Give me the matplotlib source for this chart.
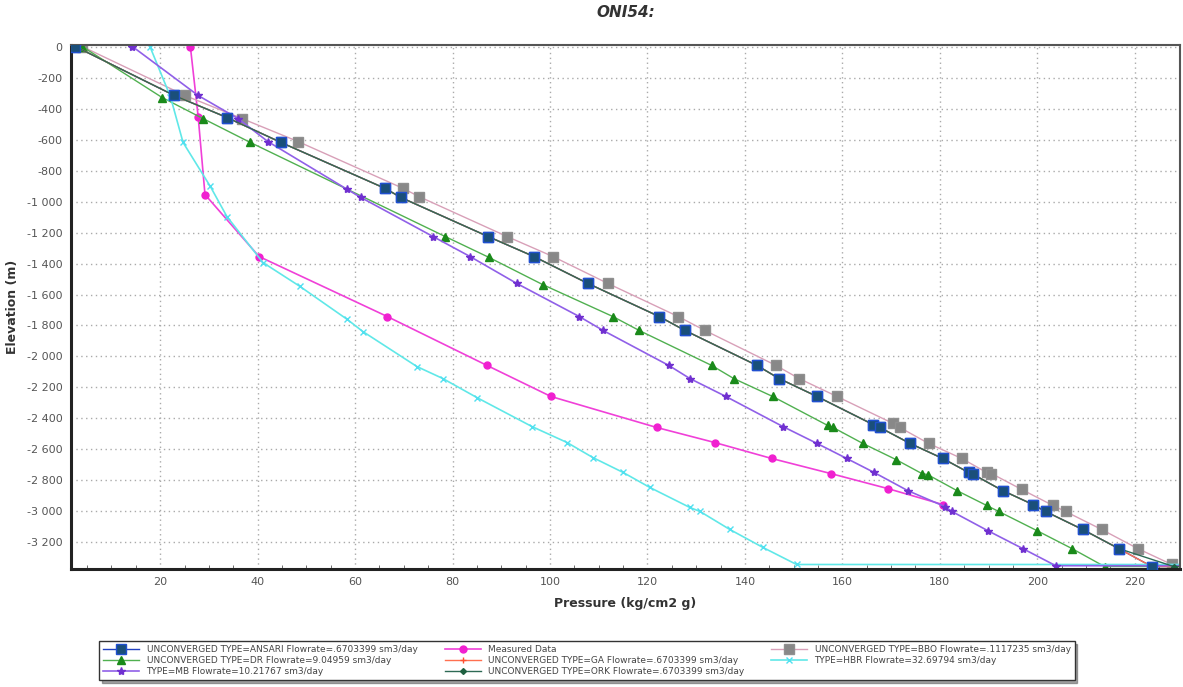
import numpy as np
import matplotlib.pyplot as plt
from matplotlib.ticker import FuncFormatter, MultipleLocator

# pressure (kg/cm2 g) vs elevation (m)
ansari_p = [2.6, 22.9, 33.7, 44.8, 66.2, 69.4, 87.3, 96.7, 107.8, 122.4, 127.7, 142.5, 147.0,
            154.8, 166.3, 167.7, 173.9, 180.6, 185.9, 186.8, 192.9, 199.1, 201.7, 209.3, 216.7, 223.5, 232]
ansari_z = [0, -316, -458, -619, -916, -974, -1226, -1355, -1529, -1742, -1832, -2058, -2142,
            -2258, -2439, -2458, -2561, -2658, -2748, -2760, -2865, -2955, -3000, -3116, -3239, -3355, -3355]

meas_p = [26.2, 27.8, 29.2, 40.3, 66.6, 87.1, 100.2, 121.9, 133.8, 145.5, 157.6, 169.3, 180.6]
meas_z = [0, -452, -955, -1355, -1742, -2058, -2258, -2458, -2555, -2658, -2755, -2852, -2955]

bbo_p = [4.0, 25.1, 36.8, 48.3, 69.9, 73.1, 91.2, 100.6, 111.9, 126.3, 131.8, 146.4, 151.1,
         158.9, 170.4, 171.8, 177.7, 184.5, 189.6, 190.6, 196.8, 203.2, 205.8, 213.2, 220.6, 227.6, 232]
bbo_z = [0, -316, -465, -613, -916, -968, -1226, -1355, -1529, -1742, -1832, -2058, -2142,
         -2258, -2432, -2458, -2561, -2658, -2748, -2755, -2858, -2961, -3000, -3116, -3239, -3342, -3342]

dr_p = [4.0, 20.4, 28.8, 38.5, 78.5, 87.5, 98.5, 112.9, 118.3, 133.2, 137.7, 145.7, 157.0, 158.1,
        164.2, 171.0, 176.3, 177.5, 183.5, 189.6, 192.1, 199.9, 207.1, 213.8, 232]
dr_z = [0, -329, -465, -619, -1226, -1361, -1536, -1742, -1832, -2058, -2142, -2258, -2445, -2458,
        -2561, -2665, -2755, -2762, -2865, -2961, -3000, -3123, -3239, -3355, -3355]

ga_p = ansari_p
ga_z = ansari_z

hbr_p = [17.9, 22.1, 24.7, 30.3, 33.7, 41.1, 48.7, 58.4, 61.6, 72.7, 78.0, 85.0, 96.3, 103.5,
         108.8, 115.0, 120.5, 128.7, 130.8, 136.9, 143.7, 150.6, 232]
hbr_z = [0, -323, -619, -903, -1097, -1394, -1548, -1761, -1839, -2065, -2142, -2265, -2452, -2555,
         -2652, -2748, -2845, -2974, -3000, -3116, -3232, -3342, -3342]

mb_p = [14.3, 27.8, 36.0, 42.1, 58.4, 61.2, 76.0, 83.6, 93.2, 106.0, 110.9, 124.4, 128.7, 136.1,
        147.8, 154.8, 160.9, 166.5, 173.4, 181.0, 182.5, 189.8, 197.0, 203.8, 232]
mb_z = [0, -316, -465, -613, -922, -974, -1226, -1355, -1529, -1742, -1832, -2058, -2142, -2258,
        -2452, -2561, -2658, -2748, -2865, -2968, -3000, -3123, -3239, -3350, -3350]

ork_p = ansari_p[:-2] + [228.0, 232]
ork_z = ansari_z[:-2] + [-3355, -3355]

fig = plt.figure(figsize=(11.83, 6.87), dpi=100)
ax = fig.add_axes([0.060, 0.172, 0.9375, 0.763])

h_ansari, = ax.plot(ansari_p, ansari_z, '-', color='#2040c0', lw=1, marker='s', ms=6.5,
                    mfc='#1a4f7a', mec='#2050d0', label='UNCONVERGED TYPE=ANSARI Flowrate=.6703399 sm3/day')
h_meas, = ax.plot(meas_p, meas_z, '-', color='#f040d8', lw=1.2, marker='o', ms=5,
                  mfc='#f020d0', mec='#f020d0', label='Measured Data')
h_bbo, = ax.plot(bbo_p, bbo_z, '-', color='#d8a0b8', lw=1, marker='s', ms=6.5,
                 mfc='#888888', mec='#909090', label='UNCONVERGED TYPE=BBO Flowrate=.1117235 sm3/day')
h_dr, = ax.plot(dr_p, dr_z, '-', color='#50b050', lw=1, marker='^', ms=6,
                mfc='#1a8a1a', mec='#1a8a1a', label='UNCONVERGED TYPE=DR Flowrate=9.04959 sm3/day')
h_ga, = ax.plot(ga_p, ga_z, '-', color='#ff7050', lw=1, marker='+', ms=4,
                mec='#ff5030', label='UNCONVERGED TYPE=GA Flowrate=.6703399 sm3/day')
h_hbr, = ax.plot(hbr_p, hbr_z, '-', color='#60e8e8', lw=1.2, marker='x', ms=4,
                 mec='#50e0f0', label='TYPE=HBR Flowrate=32.69794 sm3/day')
h_mb, = ax.plot(mb_p, mb_z, '-', color='#9060e8', lw=1.2, marker='*', ms=6,
                mfc='#7030d0', mec='#7030d0', label='TYPE=MB Flowrate=10.21767 sm3/day')
h_ork, = ax.plot(ork_p, ork_z, '-', color='#2e6a55', lw=1, marker='D', ms=3,
                 mfc='#1e6040', mec='#1e6040', label='UNCONVERGED TYPE=ORK Flowrate=.6703399 sm3/day')
# blue squares drawn on top again so they sit above the overlapping lines
ax.plot(ansari_p, ansari_z, 's', ms=6.5, mfc='#1a4f7a', mec='#2050d0', zorder=5)

ax.set_xlim(1.7, 229.3)
ax.set_ylim(-3370, 12)
ax.xaxis.set_major_locator(MultipleLocator(20))
ax.xaxis.set_minor_locator(MultipleLocator(5))
ax.yaxis.set_major_locator(MultipleLocator(200))
ax.yaxis.set_major_formatter(FuncFormatter(lambda v, p: f"{v:,.0f}".replace(",", " ")))
ax.xaxis.set_major_formatter(FuncFormatter(lambda v, p: "" if v <= 0 else f"{v:.0f}"))
ax.tick_params(axis='both', which='major', labelsize=8, labelcolor='#555555', length=0, pad=6)
ax.tick_params(axis='x', which='minor', direction='in', length=3, color='#555555')
ax.grid(True, which='major', linestyle=(0, (1, 2.5)), color='#aaaaaa', lw=1)

for s in ['left', 'bottom']:
    ax.spines[s].set_linewidth(2.2)
    ax.spines[s].set_color('#222222')
for s in ['top', 'right']:
    ax.spines[s].set_linewidth(1.5)
    ax.spines[s].set_color('#555555')

ax.set_xlabel("Pressure (kg/cm2 g)", fontsize=9, fontweight='bold', color='#333333', labelpad=7)
ax.set_ylabel("Elevation (m)", fontsize=9, fontweight='bold', color='#333333', labelpad=6)
ax.set_title("ONI54:", fontsize=11, fontweight='bold', fontstyle='italic', color='#333333', pad=20)

# legend rows read left to right, so order handles column by column
handles = [h_ansari, h_dr, h_mb, h_meas, h_ga, h_ork, h_bbo, h_hbr]
leg = fig.legend(handles=handles, labels=[h.get_label() for h in handles], ncol=3,
                 loc='lower left', bbox_to_anchor=(0.08, 0.003), fontsize=6.5,
                 frameon=True, fancybox=False, shadow=True, edgecolor='#333333',
                 handlelength=4, columnspacing=3, labelspacing=0.25, borderpad=0.45,
                 labelcolor='#444444')
leg.get_frame().set_linewidth(1)

fig.savefig("out.png", dpi=100)
